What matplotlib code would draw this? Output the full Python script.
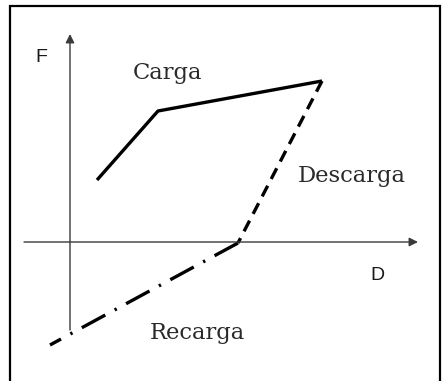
import matplotlib
matplotlib.use("Agg")

import matplotlib.pyplot as plt
from matplotlib.patches import Rectangle

# curve vertices (D, F)
carga_d = [2.7, 8.8, 25.2]
carga_f = [6.2, 13.1, 16.1]
descarga_d = [25.2, 16.8]
descarga_f = [16.1, -0.1]
recarga_d = [16.8, -2.0]
recarga_f = [-0.1, -10.3]

labels = ["Carga", "Descarga", "Recarga"]
label_pos = [(9.8, 16.9), (28.2, 6.6), (12.7, -9.1)]

fig = plt.figure(figsize=(4.43, 3.81), dpi=100)
ax = fig.add_axes([0, 0, 1, 1])
ax.set_xlim(-7.0, 37.3)
ax.set_ylim(-13.9, 24.2)
ax.axis("off")

# frame
ax.add_patch(Rectangle((-6.0, -16), 43.0, 39.6, fill=False, lw=1.6, ec="black"))

# axes with arrows
axis_kw = dict(arrowstyle="-|>", color="#3a3a3a", lw=1.0, mutation_scale=13,
               shrinkA=0, shrinkB=0)
ax.annotate("", xy=(34.8, 0), xytext=(-4.6, 0), arrowprops=axis_kw)
ax.annotate("", xy=(0, 20.8), xytext=(0, -8.8), arrowprops=axis_kw)

ax.plot(carga_d, carga_f, color="black", lw=2.4, solid_capstyle="butt")
ax.plot(descarga_d, descarga_f, color="black", lw=2.4, linestyle=(0, (3.6, 2.3)))
ax.plot(recarga_d, recarga_f, color="black", lw=2.4,
        linestyle=(0, (8.0, 3.2, 0.7, 3.2)))

ax.text(-2.9, 18.4, "F", fontsize=14, family="Liberation Sans", color="#1a1a1a",
        ha="center", va="center")
ax.text(30.7, -3.4, "D", fontsize=14, family="Liberation Sans", color="#1a1a1a",
        ha="center", va="center")

for txt, (x, y) in zip(labels, label_pos):
    ax.text(x, y, txt, fontsize=16.3, family="DejaVu Serif", color="#2a2a2a",
            ha="center", va="center")

fig.savefig("out.png", dpi=100)
